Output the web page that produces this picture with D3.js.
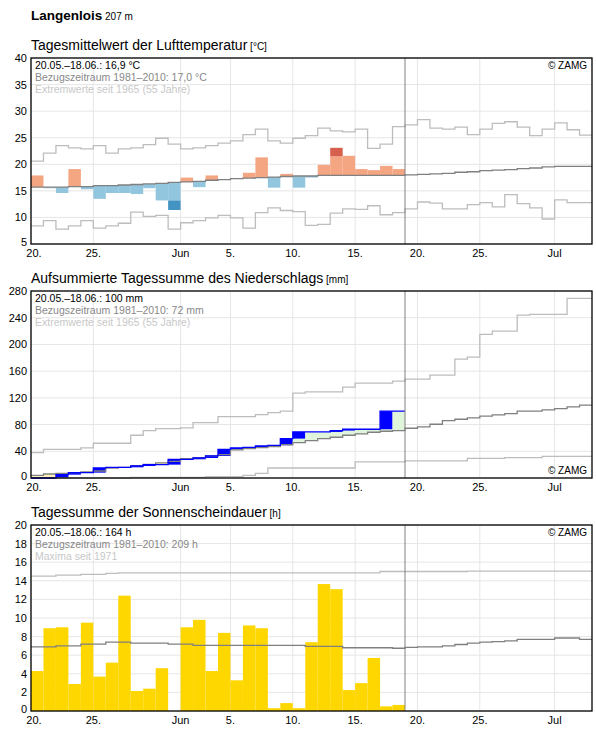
<!DOCTYPE html>
<html><head><meta charset="utf-8">
<script src="https://cdn.jsdelivr.net/npm/d3@7"></script>
<style>body{margin:0;background:#fff;font-family:"Liberation Sans",Arial,sans-serif}</style>
</head><body><svg id="c" width="596" height="729"></svg>
<script>
const xTicks=[[0,"20."],[5,"25."],[12,"Jun"],[16,"5."],[21,"10."],[26,"15."],[31,"20."],[36,"25."],[42,"Jul"]];
// Temperature
const tObs=[17.9,15.5,14.6,19.1,15.3,13.5,14.6,14.6,14.4,15.5,13.2,11.4,17.5,15.7,17.9,17.2,17.3,18.4,21.3,15.6,18.2,15.6,17.5,19.9,23.1,21.6,19.1,18.9,19.7,19.1];
const tDarkFrom={11:13.2,24:21.5};
const tMean=[15.7,15.7,15.7,15.8,15.8,16.0,16.0,16.1,16.2,16.3,16.4,16.6,16.7,16.8,17.0,17.1,17.3,17.4,17.5,17.6,17.7,17.8,17.8,17.9,17.9,17.9,17.9,17.9,17.9,17.9,18.0,18.1,18.2,18.3,18.5,18.6,18.8,18.9,19.0,19.2,19.3,19.5,19.6,19.6,19.6];
const tMax=[20.6,22.1,23.5,23.1,22.9,23.5,22.1,22.9,23.1,23.7,24.9,23.8,22.9,23.1,23.5,24.0,24.4,25.6,26.6,24.4,24.0,24.9,25.4,26.8,26.3,26.1,26.6,23.0,23.8,27.1,27.4,28.4,26.8,26.6,27.0,25.6,26.6,27.7,28.0,27.0,25.4,26.6,27.8,26.5,25.5];
const tMin=[8.4,9.4,7.8,8.4,9.4,8.0,8.4,8.9,11.0,10.2,10.4,7.8,9.0,9.4,9.9,10.4,9.9,8.0,10.9,11.8,11.3,11.1,8.5,8.7,10.8,11.6,11.5,12.2,10.5,10.9,11.6,12.9,12.7,11.6,11.6,12.4,12.8,12.0,14.3,12.6,11.8,9.7,13.3,12.8,12.8];
// Precipitation cumulative
const pObs=[0,0,5,8,8,15,16,16,18,20,20,28,28,30,33,43,45,46,48,49,59,69,69,69,71,73,73,73,100,100];
const pMean=[4,6,7,8,9,10.5,15,16,18.5,20.5,22.5,25,29,30.5,33,35,42,44,45.5,47,50,53,56,59,61,64,66,68.5,70,71,74.5,76.5,80.5,86,88,90,92.5,94.5,96.5,100,100,102,104,106.5,109];
const pMax=[38,43,43,43,45,52,52,52,64,71,74,74,75,83,83,92,92,92,95,98,100,127,129,129,129,136,142,142,142,145,148,148,154,154,178,181,215,220,220,244,245,245,245,269,269];
const pMin=[0,0,0,0,0,0,0,0,1,1,1,1,1,1,2,2,2,4,7,15,15,15,15,15,15,15,24,24,24,24,25.5,25.5,25.5,25.5,25.5,29.5,29.5,29.5,30.5,30.5,30.5,32.5,32.5,32.5,32.5];
// Sunshine
const sObs=[4.3,8.9,9.0,2.9,9.5,3.7,5.2,12.4,2.15,2.4,4.6,0,9.0,9.8,4.3,8.4,3.3,9.2,8.9,0.3,0.85,0.3,7.4,13.65,13.1,2.25,3.0,5.7,0.5,0.65];
const sMean=[6.9,6.9,7.0,7.0,7.2,7.2,7.4,7.4,7.3,7.3,7.3,7.2,7.2,7.05,7.05,7.05,7.05,7.05,7.05,7.05,7.05,7.05,6.95,6.95,6.95,6.8,6.8,6.8,6.8,6.75,6.85,6.9,6.9,7.0,7.15,7.3,7.4,7.45,7.55,7.7,7.7,7.7,7.85,7.85,7.7];
const sMax=[14.5,14.5,14.6,14.6,14.7,14.7,14.8,14.85,14.85,14.85,14.85,14.85,14.85,14.85,14.85,14.85,14.85,14.85,14.85,14.85,14.85,14.85,14.85,14.85,14.85,14.85,14.85,14.85,15.0,15.0,15.0,15.0,15.0,15.0,15.0,15.05,15.05,15.05,15.05,15.05,15.05,15.05,15.05,15.05,15.05];

const svg=d3.select("#c");
const x=d3.scaleLinear().domain([0,45]).range([31,592]);
svg.append("text").attr("x",31).attr("y",20).attr("font-size",13.5).attr("font-weight","bold").text("Langenlois")
  .append("tspan").attr("font-weight","normal").attr("font-size",10).text(" 207 m");

function panel(top,bot,dom,ticks,title,unit,lines,zampos){
  const y=d3.scaleLinear().domain(dom).range([bot,top]);
  const g=svg.append("g");
  g.append("text").attr("x",31).attr("y",top-8).attr("font-size",14).text(title)
    .append("tspan").attr("font-size",10).text(" "+unit);
  ticks.forEach(t=>{g.append("line").attr("x1",31).attr("x2",592).attr("y1",y(t)).attr("y2",y(t)).attr("stroke","#e6e6e6");
    g.append("text").attr("x",27).attr("y",y(t)+(t===dom[0]?2:4)).attr("text-anchor","end").attr("font-size",11).text(t);});
  xTicks.forEach(([d,l])=>{g.append("line").attr("x1",x(d)).attr("x2",x(d)).attr("y1",top).attr("y2",bot).attr("stroke","#e6e6e6");
    g.append("text").attr("x",x(d)+(d===0?3:0)).attr("y",bot+13).attr("text-anchor","middle").attr("font-size",11).text(l);});
  const over=svg.append("g");
  over.append("line").attr("x1",x(30)).attr("x2",x(30)).attr("y1",top).attr("y2",bot).attr("stroke","#808080");
  over.append("rect").attr("x",31).attr("y",top).attr("width",561).attr("height",bot-top).attr("fill","none").attr("stroke","#000").attr("stroke-width",1.3);
  lines.forEach((l,i)=>over.append("text").attr("x",35).attr("y",top+11+i*12).attr("font-size",10.5).attr("fill",["#000","#888","#c8c8c8"][i]).text(l));
  over.append("text").attr("x",587).attr("y",zampos=="top"?top+11:bot-4).attr("text-anchor","end").attr("font-size",10).text("© ZAMG");
  return {y,g};
}
const step=(y)=>d3.line().x(d=>x(d[0])).y(d=>y(d[1])).curve(d3.curveStepAfter);
const pts=a=>a.map((v,i)=>[i,v]).concat([[a.length,a[a.length-1]]]);
function stepLine(g,y,arr,col){g.append("path").attr("d",step(y)(pts(arr))).attr("fill","none").attr("stroke",col).attr("stroke-width",1.3);}

// Panel 1
{const {y,g}=panel(58,244,[5,40],[5,10,15,20,25,30,35,40],"Tagesmittelwert der Lufttemperatur","[°C]",
 ["20.05.–18.06.: 16,9 °C","Bezugszeitraum 1981–2010: 17,0 °C","Extremwerte seit 1965 (55 Jahre)"],"top");
 tObs.forEach((v,i)=>{const m=tMean[i];const up=v>=m;const df=tDarkFrom[i];
   const lightEnd=df!==undefined?df:v;
   g.append("rect").attr("x",x(i)).attr("width",x(i+1)-x(i)).attr("y",y(Math.max(m,lightEnd))).attr("height",Math.abs(y(m)-y(lightEnd))).attr("fill",up?"#f4a582":"#92c5de");
   if(df!==undefined)g.append("rect").attr("x",x(i)).attr("width",x(i+1)-x(i)).attr("y",y(Math.max(df,v))).attr("height",Math.abs(y(df)-y(v))).attr("fill",up?"#d6604d":"#4393c3");});
 stepLine(g,y,tMax,"#bdbdbd");stepLine(g,y,tMin,"#bdbdbd");stepLine(g,y,tMean,"#808080");}

// Panel 2
{const {y,g}=panel(291,478,[0,280],[0,40,80,120,160,200,240,280],"Aufsummierte Tagessumme des Niederschlags","[mm]",
 ["20.05.–18.06.: 100 mm","Bezugszeitraum 1981–2010: 72 mm","Extremwerte seit 1965 (55 Jahre)"],"bottom");
 pObs.forEach((v,i)=>{const m=pMean[i];
   g.append("rect").attr("x",x(i)).attr("width",x(i+1)-x(i)).attr("y",y(Math.max(m,v))).attr("height",Math.abs(y(m)-y(v))).attr("fill",v>=m?"#e0f3db":"#fff3b8");
   const prev=i?pObs[i-1]:0;
   if(v>prev)g.append("rect").attr("x",x(i)).attr("width",x(i+1)-x(i)).attr("y",y(v)).attr("height",y(prev)-y(v)).attr("fill","#0000ff");});
 stepLine(g,y,pMax,"#bdbdbd");stepLine(g,y,pMin,"#bdbdbd");stepLine(g,y,pMean,"#808080");
 g.append("path").attr("d",step(y)(pts(pObs))).attr("fill","none").attr("stroke","#0000ff").attr("stroke-width",1.3);}

// Panel 3
{const {y,g}=panel(525,711,[0,20],d3.range(0,21,2),"Tagessumme der Sonnenscheindauer","[h]",
 ["20.05.–18.06.: 164 h","Bezugszeitraum 1981–2010: 209 h","Maxima seit 1971"],"top");
 sObs.forEach((v,i)=>g.append("rect").attr("x",x(i)).attr("width",x(i+1)-x(i)).attr("y",y(v)).attr("height",y(0)-y(v)).attr("fill","#ffd700"));
 stepLine(g,y,sMax,"#bdbdbd");stepLine(g,y,sMean,"#808080");}
</script></body></html>
